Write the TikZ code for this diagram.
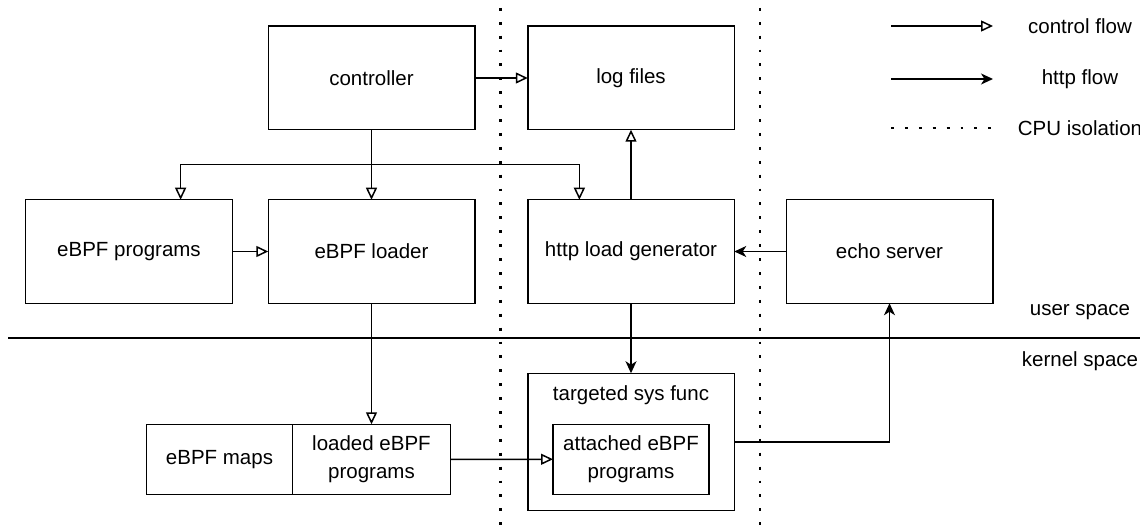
\documentclass[tikz,border=0pt]{standalone}
\usepackage{fontspec}
\setmainfont{Liberation Sans}
\usetikzlibrary{positioning,arrows.meta,calc}
\tikzset{
flow/.style={
    x=1bp,
    y=-1bp,
    line width=1.5bp,
    font=\fontsize{20.5bp}{28bp}\selectfont
},
box/.style={
    rectangle,
    draw,
    minimum width=206.5bp,
    minimum height=103.5bp,
    inner sep=0pt,
    outer sep=0pt,
    align=center
},
smallbox/.style={
    box,
    minimum height=70bp
},
ctl/.style={
    -{Triangle[open,length=12bp,width=11bp]}
},
req/.style={
    -{Stealth[length=12bp,width=11bp,inset=3.5bp]}
},
cpu/.style={
    line width=2.9bp,
    dash pattern=on 2.9bp off 11bp,
    dash phase=6bp
}}

\begin{document}
\begin{tikzpicture}[flow]
\useasboundingbox (0,0) rectangle (1140,525);

% user space
\node[box]    (controller)    at (371.5,78)    {controller};
\node[box]    (logs)        [right=53bp of controller]    {log files};
\node[box]    (loader)      [below=70bp of controller]    {eBPF loader};
\node[box]    (programs)    [left=36bp of loader]         {eBPF programs};
\node[box]    (loadgen)     [right=53bp of loader]        {http load generator};
\node[box]    (echo)        [right=52bp of loadgen]       {echo server};

% kernel space
\node[smallbox, minimum width=158bp]    (loaded)    [below=121bp of loader]    {loaded eBPF\\programs};
\node[smallbox, minimum width=146bp]    (maps)      [left=0pt of loaded]       {eBPF maps};
\node[box, minimum height=137bp]        (sysfunc)   [below=70bp of loadgen,
    label={[anchor=north, yshift=-8bp]north:targeted sys func}]    {};
\node[smallbox, minimum width=156bp]    (attached)  [above=16bp of sysfunc.south]    {attached eBPF\\programs};

% space separator
\coordinate    (sepl)    at (8,338);
\coordinate    (sepr)    at (1140,338);
\draw    (sepl) -- (sepr);
\node    (user)      at (1080,312)    {user space};
\node    (kernel)    at (1080,361)    {kernel space};

% cpu isolation
\coordinate    (cpu1t)    at (500.7,0);
\coordinate    (cpu1b)    at (500.7,525);
\coordinate    (cpu2t)    at (760,0);
\coordinate    (cpu2b)    at (760,525);
\draw[cpu]    (cpu1t) -- (cpu1b);
\draw[cpu]    (cpu2t) -- (cpu2b);

% control flow
\coordinate    (fork)    at ($(controller.south)+(0,35)$);
\path    (controller)    edge[ctl]    (logs);
\path    (controller)    edge[ctl]    (loader);
\draw[ctl]    (fork) -| ($(programs.north west)!0.75!(programs.north east)$);
\draw[ctl]    (fork) -| ($(loadgen.north west)!0.25!(loadgen.north east)$);
\path    (programs)    edge[ctl]    (loader);
\path    (loader)      edge[ctl]    (loaded);
\path    (loadgen)     edge[ctl]    (logs);
\path    (loaded)      edge[ctl]    (attached);

% http flow
\path    (echo)       edge[req]    (loadgen);
\path    (loadgen)    edge[req]    (sysfunc);
\draw[req]    (sysfunc.east) -| (echo.south);

% legend
\coordinate    (ctla)    at (891,26);
\coordinate    (ctlb)    at (993,26);
\coordinate    (reqa)    at (891,79);
\coordinate    (reqb)    at (993,79);
\coordinate    (cpua)    at (891,128);
\coordinate    (cpub)    at (993,128);
\draw[ctl]    (ctla) -- (ctlb);
\draw[req]    (reqa) -- (reqb);
\draw[cpu, dash phase=0pt]    (cpua) -- (cpub);
\node    (ctltext)    at (1080,26)     {control flow};
\node    (reqtext)    at (1080,79)     {http flow};
\node    (cputext)    at (1080,128)    {CPU isolation};
\end{tikzpicture}
\end{document}
